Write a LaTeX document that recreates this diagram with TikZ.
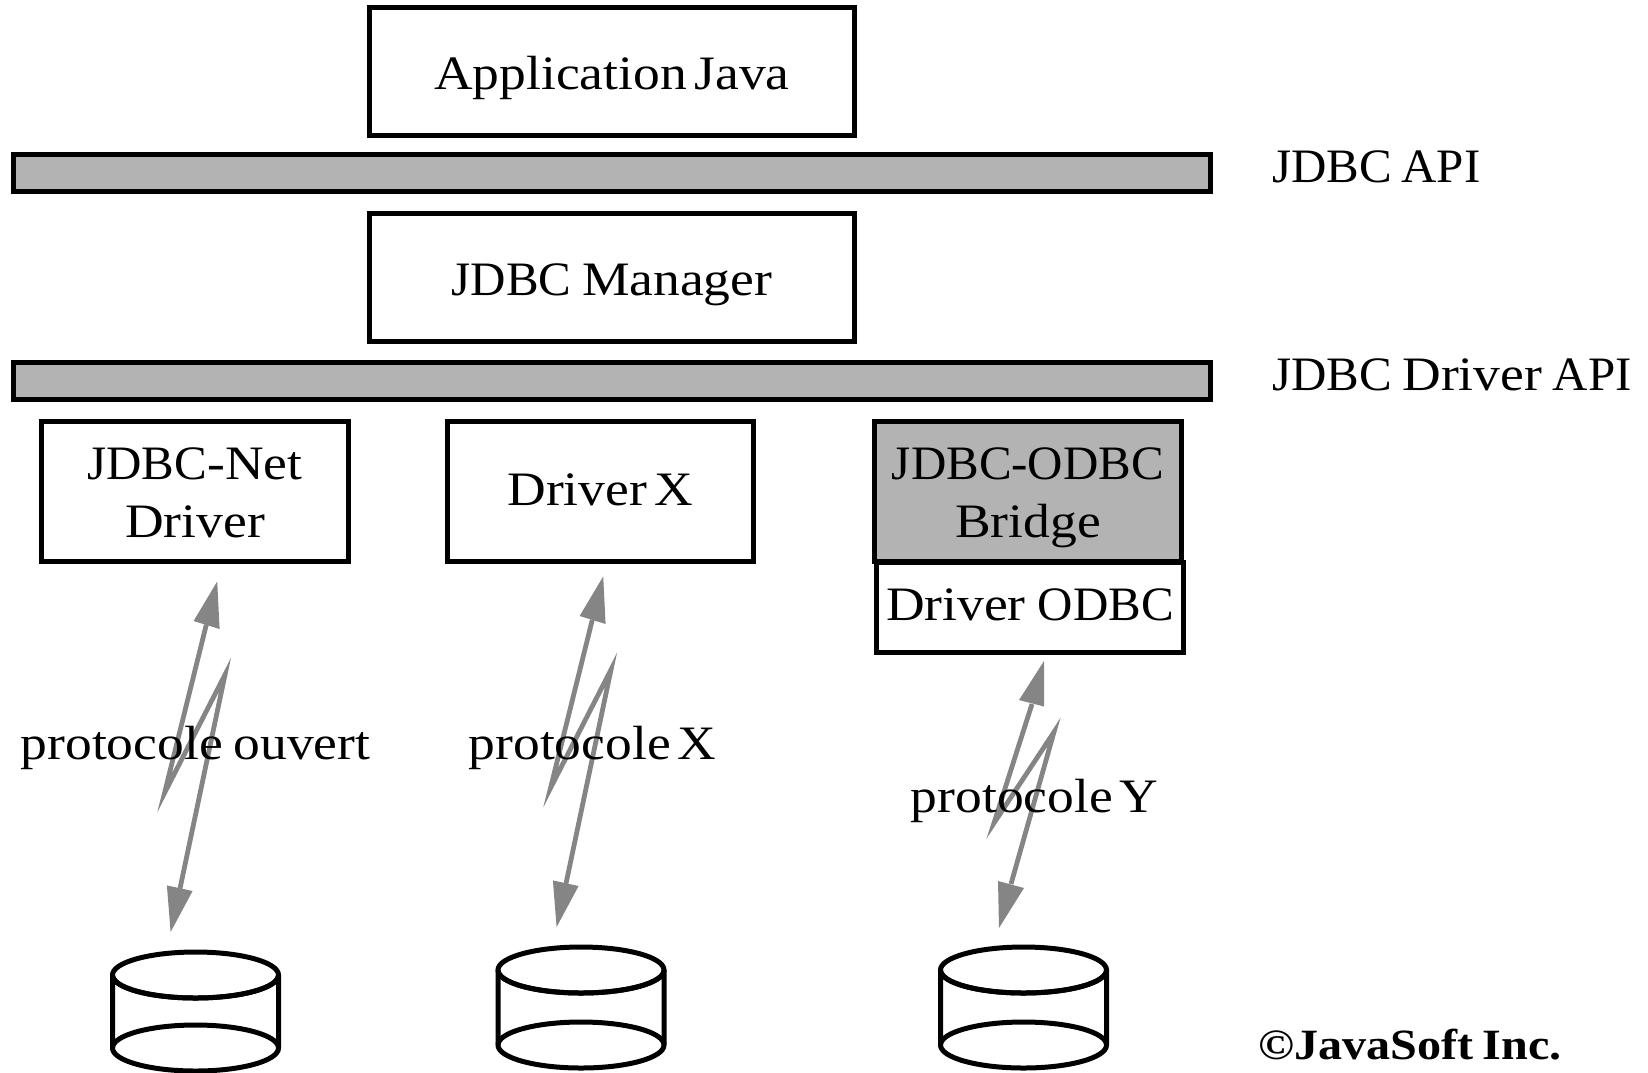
\documentclass[tikz,border=0pt]{standalone}
\usepackage{fontspec}
\setmainfont[FakeStretch=1.115,WordSpace=0.8]{Liberation Serif}
\newfontfamily\capfont[FakeStretch=1.02,WordSpace=0.8]{Liberation Serif}
\newcommand{\jc}[1]{{\capfont #1}}
\newcommand{\oneline}[2]{\raisebox{#1}[0pt][0pt]{#2}}
\newcommand{\twol}[3]{\raisebox{#1}[0pt][0pt]{\begin{tabular}[t]{@{}c@{}}#2\\#3\end{tabular}}}
\begin{document}
\begin{tikzpicture}[x=0.5pt,y=-0.5pt,
  lbl/.style={font=\fontsize{24}{29}\selectfont,inner sep=0pt,outer sep=0pt,align=center},
  lblleft/.style={lbl,anchor=west},
  copyr/.style={lbl,font=\fontsize{21.6}{26}\bfseries\selectfont,anchor=west},
  boxn/.style={lbl,draw=black,line width=2.5pt,fill=white,rectangle,minimum width=#1*0.5pt},
  boxn/.default=306,
  bar/.style={draw=black,line width=2.5pt,fill=barg},
  cyl/.style={draw=black,line width=2.5pt,fill=white},
  bolt/.style={draw=boltg,line width=2.4pt,miter limit=20,line join=miter},
  headf/.style={fill=boltg,draw=none}]
\definecolor{barg}{HTML}{B3B3B3}
\definecolor{boltg}{HTML}{858585}
\useasboundingbox (0,0) rectangle (1648,1072);
% bars
\node[bar,rectangle,minimum width=598.3pt,minimum height=18.5pt,inner sep=0pt,outer sep=0pt] (barapi) at (612,173) {};
\node[bar,rectangle,minimum width=598.3pt,minimum height=18.5pt,inner sep=0pt,outer sep=0pt] (bardrv) at (612,381) {};
% top boxes
\node[boxn=485,minimum height=64pt] (app) at (612,71.5) {\oneline{-8.9pt}{Application\kern-1.5pt{} Java}};
\node[boxn=485,minimum height=64pt] (mgr) at (612,277.5) {\oneline{-8.9pt}{\jc{JDBC} Manager}};
% driver boxes
\node[boxn=306.5,minimum height=70pt] (net) at (195,491.5) {\twol{6pt}{\jc{JDBC}-Net}{Driver}};
\node[boxn=306.5,minimum height=70pt] (drvx) at (600.5,491.5) {\oneline{-7pt}{Driver\kern-1.5pt{} X}};
\node[boxn=306.5,minimum height=45pt] (odbc) at (1030,607.5) {\oneline{-6.25pt}{Driver\kern0.8pt{} \jc{ODBC}}};
\node[boxn=306.5,minimum height=70pt,fill=barg] (bridge) at (1028,491.5) {\twol{6pt}{\jc{JDBC-ODBC}}{Bridge}};
% link 1
\begin{scope}[xshift=-1.7pt]
\coordinate (t1) at (220.6,581.4);
\coordinate (l1) at (197,621);
\coordinate (r1) at (223,629);
\coordinate (h1) at (209.7,624.8);
\coordinate (a1) at (168,792.8);
\coordinate (b1) at (228.4,674.7);
\coordinate (g1) at (183.2,889.5);
\coordinate (p1) at (170.3,885.4);
\coordinate (q1) at (196,891);
\coordinate (u1) at (174,932);
% link 2
\coordinate (t2) at (606.6,576.4);
\coordinate (l2) at (583,616);
\coordinate (r2) at (609,624);
\coordinate (h2) at (595.7,619.8);
\coordinate (a2) at (554,787.8);
\coordinate (b2) at (614.4,669.7);
\coordinate (g2) at (569.2,884.5);
\coordinate (p2) at (556.3,880.4);
\coordinate (q2) at (582,886);
\coordinate (u2) at (560,927);
\end{scope}
\draw[bolt] (h1) -- (a1) -- (b1) -- (g1);
\fill[headf] (t1) -- (l1) -- (r1) -- cycle;
\fill[headf] (u1) -- (p1) -- (q1) -- cycle;
\draw[bolt] (h2) -- (a2) -- (b2) -- (g2);
\fill[headf] (t2) -- (l2) -- (r2) -- cycle;
\fill[headf] (u2) -- (p2) -- (q2) -- cycle;
% link 3
\coordinate (t3) at (1044,661);
\coordinate (l3) at (1019,700);
\coordinate (r3) at (1044,706.5);
\coordinate (h3) at (1032,704);
\coordinate (a3) at (994,823);
\coordinate (b3) at (1054,732);
\coordinate (g3) at (1011,884);
\coordinate (p3) at (998,881);
\coordinate (q3) at (1024,888);
\coordinate (u3) at (999,928);
\draw[bolt] (h3) -- (a3) -- (b3) -- (g3);
\fill[headf] (t3) -- (l3) -- (r3) -- cycle;
\fill[headf] (u3) -- (p3) -- (q3) -- cycle;
% cylinders
\foreach \cx/\ct/\cb in {195.5/975/1048, 581/970/1045, 1023.5/970/1045}{
  \draw[cyl] (\cx-83,\ct) -- (\cx-83,\cb) arc[start angle=180,end angle=360,x radius=83pt*0.5,y radius=23pt*0.5]
     -- (\cx+83,\ct) arc[start angle=0,end angle=-180,x radius=83pt*0.5,y radius=23pt*0.5] -- cycle;
  \draw[draw=black,line width=2.5pt] (\cx,\ct) ellipse[x radius=83pt*0.5,y radius=23pt*0.5];
  \draw[draw=black,line width=2.5pt] (\cx-83,\cb) arc[start angle=180,end angle=0,x radius=83pt*0.5,y radius=23pt*0.5];
}
% labels
\node[lblleft] (lapi) at (1272,166.5) {\jc{JDBC API}};
\node[lblleft] (ldrv) at (1272,374.5) {\jc{JDBC} Driver \jc{API}};
\node[lbl] (pouv) at (195.5,748) {protocole ouvert};
\node[lbl] (px) at (592.5,748) {protocole\kern-2pt{} X};
\node[lbl] (py) at (1034.5,801) {protocole\kern-2pt{} Y};
\node[copyr] (cr) at (1258,1045) {©JavaSoft Inc.};
\end{tikzpicture}
\end{document}
